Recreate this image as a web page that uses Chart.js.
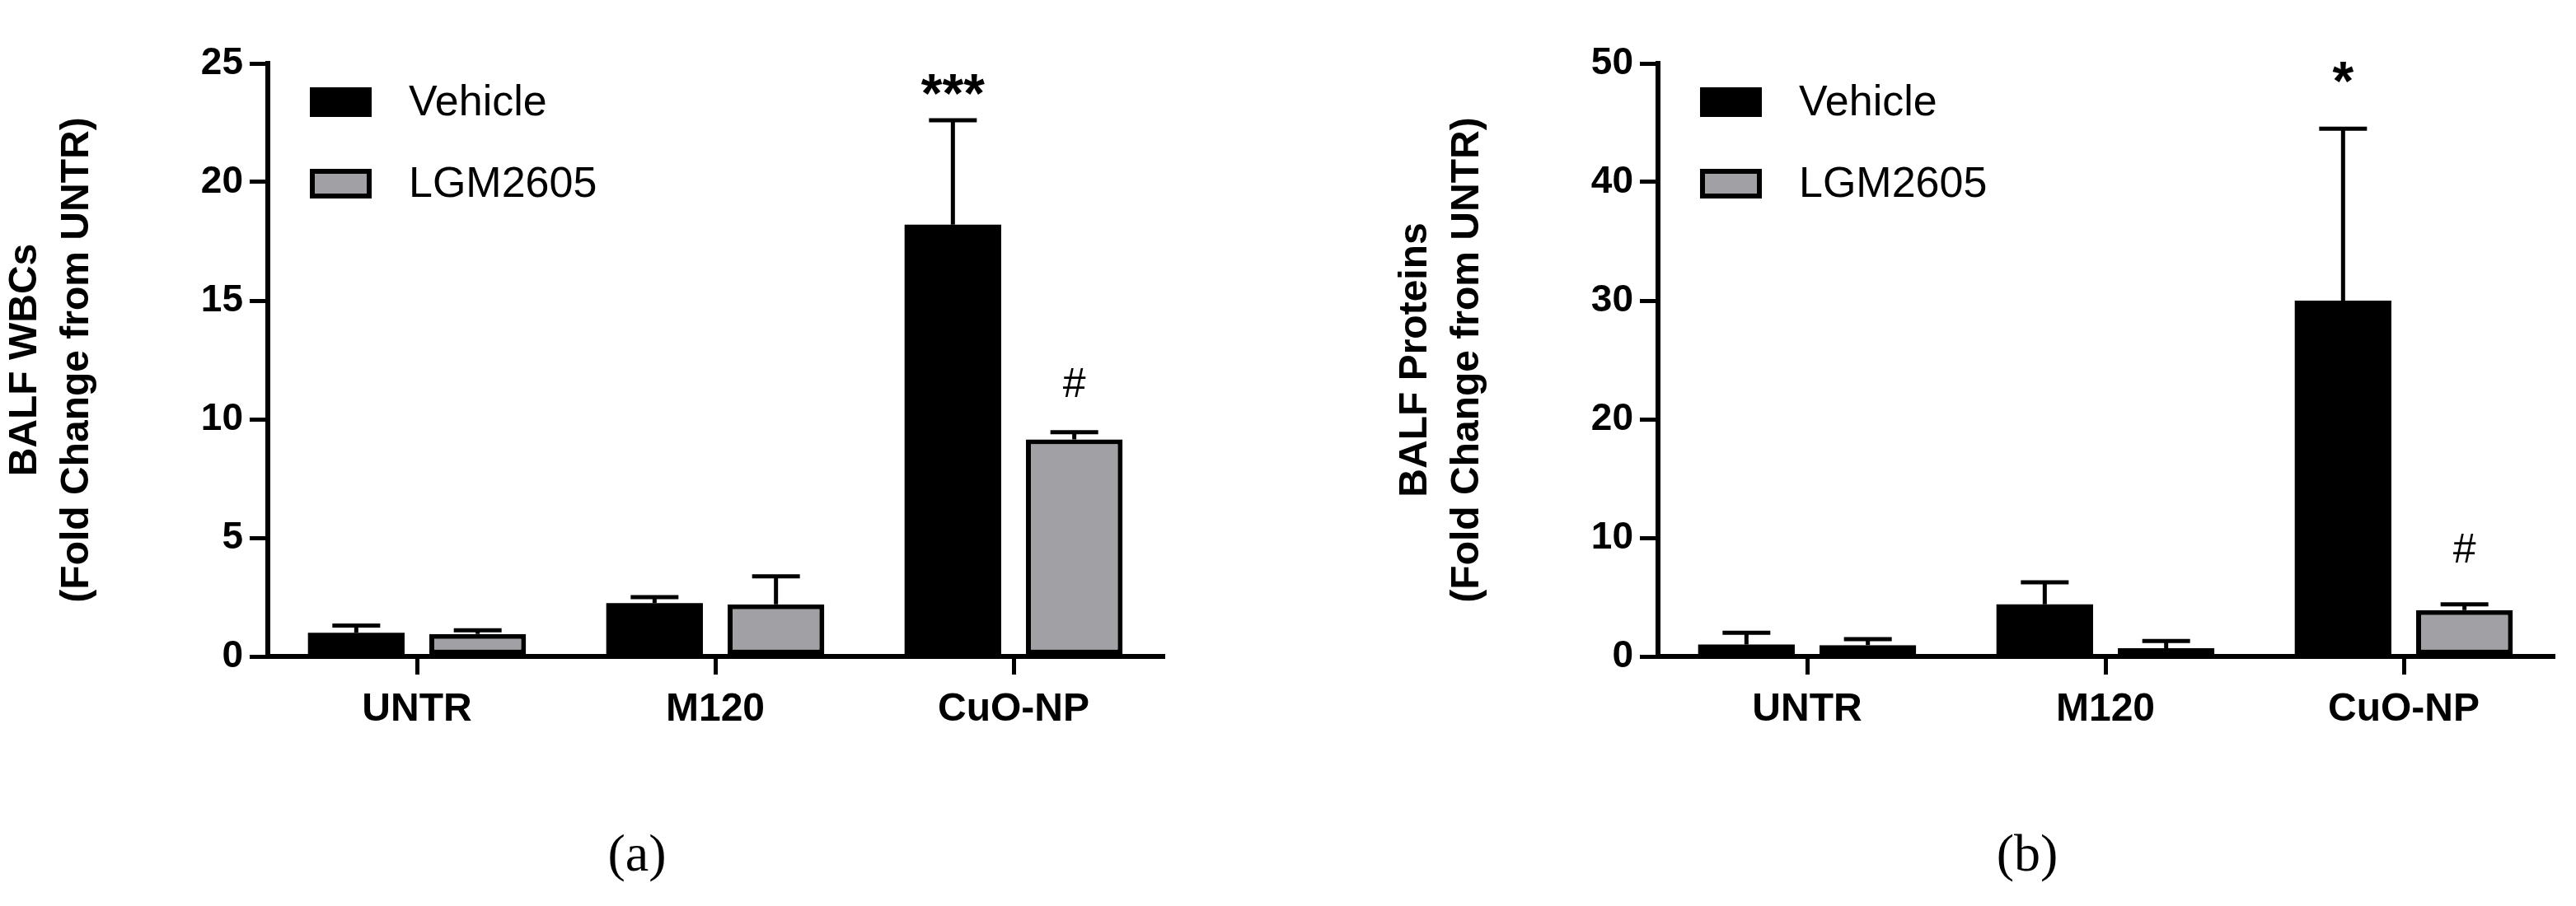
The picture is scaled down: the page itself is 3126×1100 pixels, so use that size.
<!DOCTYPE html>
<html><head><meta charset="utf-8">
<script src="https://cdn.jsdelivr.net/npm/chart.js@4"></script>
<style>
html,body{margin:0;padding:0;background:#fff;width:3126px;height:1100px;overflow:hidden}
.w{position:absolute;top:0;width:1563px;height:1100px}
</style></head><body>
<div class="w" style="left:0"><canvas id="ca"></canvas></div>
<div class="w" style="left:1687px"><canvas id="cb"></canvas></div>
<script>
const categories = ["UNTR", "M120", "CuO-NP"];
const seriesNames = ["Vehicle", "LGM2605"];
// Panel (a): BALF WBCs
const wbcVehicle = [1.0, 2.25, 18.2];
const wbcVehicleErr = [1.3, 2.5, 22.6];
const wbcLGM = [0.95, 2.2, 9.15];
const wbcLGMErr = [1.1, 3.38, 9.45];
const wbcTicks = [0, 5, 10, 15, 20, 25];
const wbcMarks = [["***", 0, 2, 23.6], ["#", 1, 2, 11.4]];
// Panel (b): BALF Proteins
const protVehicle = [1.0, 4.4, 30.0];
const protVehicleErr = [2.0, 6.25, 44.5];
const protLGM = [0.95, 0.7, 3.9];
const protLGMErr = [1.45, 1.3, 4.4];
const protTicks = [0, 10, 20, 30, 40, 50];
const protMarks = [["*", 0, 2, 48.2], ["#", 1, 2, 8.9]];

const FONT = "'Liberation Sans', Arial, sans-serif";
const GRAY = "#a1a1a5";

function makeChart(id, veh, vehErr, lgm, lgmErr, ticks, marks, title, panel) {
  const errs = [vehErr, lgmErr];
  const plugin = {
    id: 'extras',
    afterDatasetsDraw(chart) {
      const ctx = chart.ctx, y = chart.scales.y;
      ctx.save();
      ctx.strokeStyle = '#000'; ctx.lineWidth = 5; ctx.lineCap = 'butt';
      chart.data.datasets.forEach((ds, di) => {
        const meta = chart.getDatasetMeta(di);
        meta.data.forEach((bar, i) => {
          const top = y.getPixelForValue(ds.data[i]);
          const e = y.getPixelForValue(errs[di][i]);
          ctx.beginPath(); ctx.moveTo(bar.x, top); ctx.lineTo(bar.x, e);
          ctx.moveTo(bar.x - 29, e); ctx.lineTo(bar.x + 29, e); ctx.stroke();
        });
      });
      // significance marks
      ctx.fillStyle = '#000'; ctx.textAlign = 'center'; ctx.textBaseline = 'middle';
      marks.forEach(([txt, di, i, v]) => {
        const bar = chart.getDatasetMeta(di).data[i];
        ctx.font = txt.startsWith('*') ? "bold 66px " + FONT : "50px " + FONT;
        ctx.fillText(txt, bar.x, y.getPixelForValue(v));
      });
      // legend
      const items = [["#000", 124], [GRAY, 223]];
      items.forEach(([c, cy], k) => {
        ctx.fillStyle = c; ctx.fillRect(376, cy - 18, 75, 36);
        ctx.lineWidth = 6; ctx.strokeStyle = '#000'; ctx.strokeRect(379, cy - 15, 69, 30);
        ctx.fillStyle = '#000'; ctx.textAlign = 'left'; ctx.font = "52px " + FONT;
        ctx.fillText(seriesNames[k], 496, cy + 2);
      });
      // panel label
      ctx.textAlign = 'center'; ctx.font = "64px 'Liberation Serif', serif";
      ctx.fillText(panel, 773, 1040);
      ctx.restore();
    }
  };
  return new Chart(document.getElementById(id), {
    type: 'bar',
    data: {
      labels: categories,
      datasets: [
        { label: seriesNames[0], data: veh, backgroundColor: '#000', borderColor: '#000', borderWidth: 0 },
        { label: seriesNames[1], data: lgm, backgroundColor: GRAY, borderColor: '#000', borderWidth: 6, borderSkipped: false }
      ]
    },
    options: {
      responsive: false, animation: false, devicePixelRatio: 1,
      layout: { padding: { top: 77, right: 152, left: 0, bottom: 0 } },
      categoryPercentage: 0.814, barPercentage: 0.796,
      plugins: { legend: { display: false }, tooltip: { enabled: false } },
      scales: {
        x: {
          offset: true,
          grid: { offset: false, drawOnChartArea: false, drawTicks: true, tickLength: 22, lineWidth: 5, color: '#000' },
          border: { color: '#000', width: 6 },
          ticks: { color: '#000', font: { family: FONT, size: 48, weight: 'bold' }, padding: 14 },
          afterFit(s) { s.height = 303; }
        },
        y: {
          min: 0, max: ticks[ticks.length - 1],
          afterBuildTicks(s) { s.ticks = ticks.map(v => ({ value: v })); },
          grid: { drawOnChartArea: false, tickLength: 22, lineWidth: 5, color: '#000' },
          border: { color: '#000', width: 6 },
          ticks: { color: '#000', font: { family: FONT, size: 46, weight: 'bold' }, padding: 8 },
          title: { display: true, text: title, color: '#000', font: { family: FONT, size: 48, weight: 'bold', lineHeight: 1.3 }, padding: 0 },
          afterFit(s) { s.width = 325; }
        }
      }
    },
    plugins: [plugin]
  });
}
function setup(id){ const c=document.getElementById(id); c.width=1563; c.height=1100; c.style.width='1563px'; c.style.height='1100px'; }
setup('ca'); setup('cb');
makeChart('ca', wbcVehicle, wbcVehicleErr, wbcLGM, wbcLGMErr, wbcTicks, wbcMarks, ["BALF WBCs", "(Fold Change from UNTR)"], "(a)");
makeChart('cb', protVehicle, protVehicleErr, protLGM, protLGMErr, protTicks, protMarks, ["BALF Proteins", "(Fold Change from UNTR)"], "(b)");
</script></body></html>
